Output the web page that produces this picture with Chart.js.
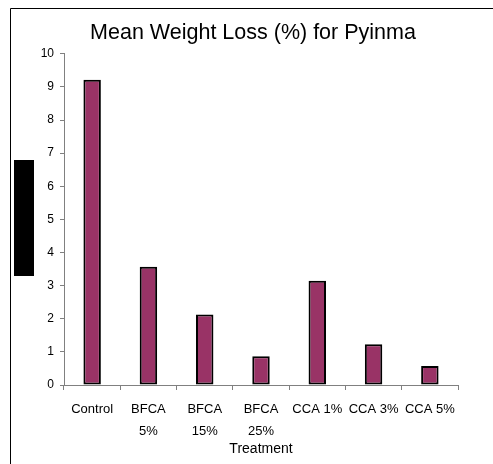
<!DOCTYPE html>
<html>
<head>
<meta charset="utf-8">
<script src="https://cdn.jsdelivr.net/npm/chart.js@4.4.0/dist/chart.umd.min.js"></script>
<style>
  body { margin: 0; background: #fff; }
  #wrap { position: relative; width: 493px; height: 464px; }
</style>
</head>
<body>
<div id="wrap"><canvas id="chart" width="493" height="464"></canvas></div>
<script>
const treatments = [["Control"], ["BFCA", "5%"], ["BFCA", "15%"], ["BFCA", "25%"], ["CCA 1%"], ["CCA 3%"], ["CCA 5%"]];
const weightLoss = [9.22, 3.57, 2.13, 0.87, 3.15, 1.23, 0.57];
const yTicks = [0, 1, 2, 3, 4, 5, 6, 7, 8, 9, 10];

const fontFamily = "'Liberation Sans', Arial, sans-serif";

// outer frame and the blacked-out y axis title
const decor = {
  id: "decor",
  afterLayout(chart) {
    // title sits a little right of the canvas centre in the original
    if (chart.titleBlock) {
      chart.titleBlock.left += 6;
      chart.titleBlock.right += 6;
    }
  },
  afterDraw(chart) {
    const ctx = chart.ctx;
    ctx.save();
    ctx.strokeStyle = "#000";
    ctx.lineWidth = 1;
    ctx.beginPath();
    ctx.moveTo(10.5, 470);
    ctx.lineTo(10.5, 8.5);
    ctx.lineTo(500, 8.5);
    ctx.stroke();
    ctx.fillStyle = "#000";
    ctx.fillRect(14, 160, 20, 116);
    ctx.restore();
  },
};

new Chart(document.getElementById("chart").getContext("2d"), {
  type: "bar",
  data: {
    labels: treatments,
    datasets: [
      {
        data: weightLoss,
        backgroundColor: "#993366",
        borderColor: "#000",
        borderWidth: 2,
        borderSkipped: false,
        categoryPercentage: 1,
        barPercentage: 0.31,
      },
    ],
  },
  options: {
    responsive: false,
    animation: false,
    layout: { padding: { left: 36, right: 35, top: 0, bottom: 0 } },
    plugins: {
      legend: { display: false },
      tooltip: { enabled: false },
      title: {
        display: true,
        text: "Mean Weight Loss (%) for Pyinma",
        color: "#000",
        font: { family: fontFamily, size: 21.5, weight: "normal" },
        padding: { top: 20, bottom: 8 },
      },
    },
    scales: {
      y: {
        min: 0,
        max: 10,
        afterBuildTicks(scale) {
          scale.ticks = yTicks.map((v) => ({ value: v }));
        },
        afterFit(scale) {
          scale.width = 28;
        },
        grid: { drawOnChartArea: false, drawTicks: true, tickLength: 4, color: "#808080" },
        border: { color: "#808080" },
        ticks: { color: "#000", padding: 6, font: { family: fontFamily, size: 12 } },
      },
      x: {
        afterFit(scale) {
          scale.height = 79;
        },
        grid: { drawOnChartArea: false, drawTicks: true, tickLength: 5, color: "#808080", offset: true },
        border: { color: "#808080" },
        ticks: {
          color: "#000",
          maxRotation: 0,
          autoSkip: false,
          padding: 8,
          font: { family: fontFamily, size: 13, lineHeight: 1.7 },
        },
        title: {
          display: true,
          text: "Treatment",
          color: "#000",
          font: { family: fontFamily, size: 14, lineHeight: 1.2 },
          padding: { top: 0, bottom: 6 },
        },
      },
    },
  },
  plugins: [decor],
});
</script>
</body>
</html>
